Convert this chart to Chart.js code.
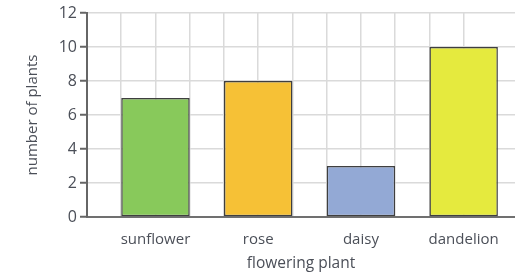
<!DOCTYPE html>
<html>
<head>
<meta charset="utf-8">
<script src="https://cdn.jsdelivr.net/npm/chart.js@4/dist/chart.umd.min.js"></script>
<style>
  html, body { margin: 0; padding: 0; background: #fff; }
  #wrap { width: 515px; height: 273px; }
</style>
</head>
<body>
<div id="wrap"><canvas id="chart"></canvas></div>
<script>
// data
const plants = ["sunflower", "rose", "daisy", "dandelion"];
const plantPos = [2, 5, 8, 11]; // bar centres in grid columns
const counts = [7, 8, 3, 10];
const barColors = ["#88c95b", "#f6c136", "#93a9d5", "#e5ea3e"];
const yTicks = [0, 2, 4, 6, 8, 10, 12];

const textColor = "#4b4f58";
const font = "'Open Sans', 'DejaVu Sans', sans-serif";

const ctx = document.getElementById("chart").getContext("2d");
new Chart(ctx, {
  type: "bar",
  data: {
    datasets: [{
      data: plants.map((p, i) => ({ x: plantPos[i], y: counts[i] })),
      backgroundColor: barColors,
      borderColor: "#3f3f3f",
      borderWidth: 1.5,
      borderSkipped: false,
      barPercentage: 1,
      categoryPercentage: 2, // each bar spans two grid columns
    }],
  },
  options: {
    responsive: true,
    maintainAspectRatio: false,
    animation: false,
    layout: { padding: { top: 13, right: 0, left: 0, bottom: 0 } },
    plugins: { legend: { display: false }, tooltip: { enabled: false } },
    scales: {
      x: {
        type: "linear",
        min: 0,
        max: 12.5,
        offset: false,
        afterBuildTicks: (scale) => {
          scale.ticks = scale.ticks.filter((t) => Number.isInteger(t.value));
        },
        afterFit: (scale) => { scale.height = 56; },
        ticks: {
          stepSize: 1,
          autoSkip: false,
          maxRotation: 0,
          padding: 14,
          color: textColor,
          font: { family: font, size: 15 },
          callback: (v) => {
            const i = plantPos.indexOf(v);
            return i >= 0 ? plants[i] : "";
          },
        },
        grid: { color: "#dadada", lineWidth: 1.5, drawTicks: false, offset: false },
        border: { color: "#707070", width: 2 },
        title: {
          display: true,
          text: "flowering plant",
          color: textColor,
          font: { family: font, size: 15.5 },
          padding: { top: 0, bottom: 0 },
        },
      },
      y: {
        min: 0,
        max: 12,
        afterBuildTicks: (scale) => {
          scale.ticks = yTicks.map((v) => ({ value: v }));
        },
        afterFit: (scale) => { scale.width = 87; },
        ticks: {
          stepSize: 2,
          padding: 3,
          color: textColor,
          font: { family: font, size: 16 },
        },
        grid: { color: "#dadada", lineWidth: 1.5, tickLength: 7, tickColor: "#666", tickWidth: 2 },
        border: { color: "#666", width: 2 },
        title: {
          display: true,
          text: "number of plants",
          color: textColor,
          font: { family: font, size: 15 },
          padding: { top: 24, bottom: 4 },
        },
      },
    },
  },
});
</script>
</body>
</html>
